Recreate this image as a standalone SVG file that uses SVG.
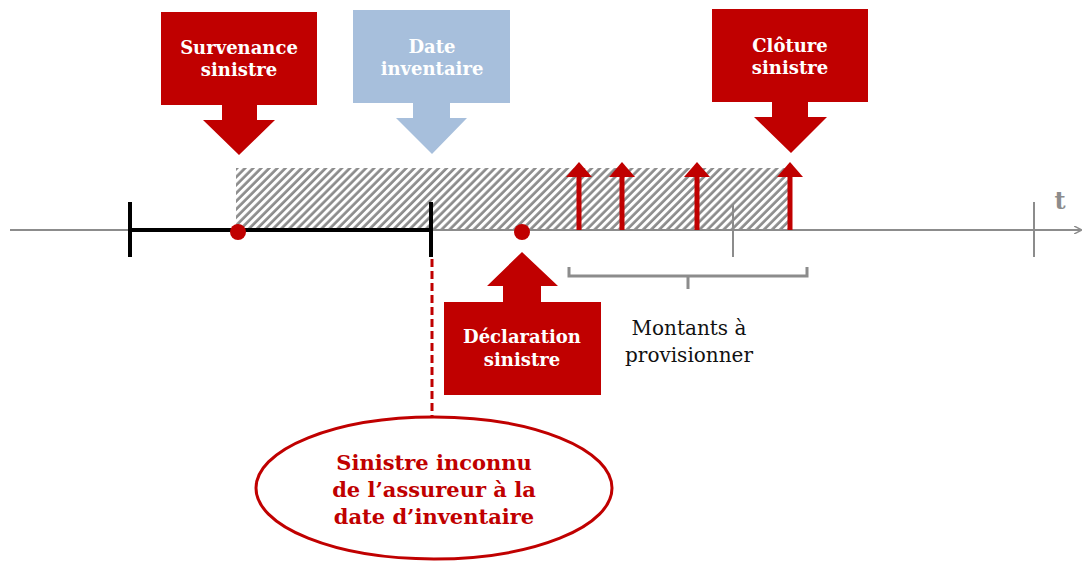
<svg xmlns="http://www.w3.org/2000/svg" width="1082" height="561" viewBox="0 0 1082 561">
<style>
.cw{font-family:"DejaVu Serif","Liberation Serif",serif;font-weight:bold;font-size:18px;fill:#FFFFFF;text-anchor:middle}
.cr{font-family:"DejaVu Serif","Liberation Serif",serif;font-weight:bold;font-size:21px;fill:#C00000;text-anchor:middle}
.cb{font-family:"DejaVu Serif","Liberation Serif",serif;font-size:20px;fill:#111111;text-anchor:middle}
.red{fill:#C00000}
.blue{fill:#A7BFDC}
.gl{stroke:#8C8C8C;stroke-width:2;fill:none}
.bl{stroke:#000000;stroke-width:4;fill:none}
.up{stroke:#C00000;stroke-width:5}
</style>
<defs>
<pattern id="hatch" patternUnits="userSpaceOnUse" width="5.7" height="5.7" patternTransform="rotate(45)">
<line x1="1.5" y1="0" x2="1.5" y2="5.7" stroke="#8C8C8C" stroke-width="2.7"/>
</pattern>
<marker id="ah" markerWidth="8" markerHeight="8" refX="7" refY="4" orient="auto" markerUnits="userSpaceOnUse">
<path d="M0,0 L8,4 L0,8" fill="none" stroke="#8C8C8C" stroke-width="1.5"/>
</marker>
</defs>
<g id="hatched-period">
<rect x="236" y="168" width="555" height="62" fill="url(#hatch)"/>
</g>
<g id="connectors">
<line x1="10" y1="230" x2="1081" y2="230" class="gl" marker-end="url(#ah)"/>
<line x1="130" y1="230" x2="431" y2="230" class="bl"/>
<line x1="130" y1="202" x2="130" y2="257" class="bl"/>
<line x1="431" y1="202" x2="431" y2="257" class="bl"/>
<line x1="733" y1="204" x2="733" y2="257" class="gl"/>
<line x1="1034" y1="202" x2="1034" y2="257" class="gl"/>
<line x1="432" y1="259" x2="432" y2="417" stroke="#C00000" stroke-width="3" stroke-dasharray="8,4"/>
<path d="M569,267 V276 H807 V267 M688,276 V289" stroke="#8C8C8C" stroke-width="3" fill="none"/>
<line x1="579" y1="230" x2="579" y2="176" class="up"/><path d="M566,177 L579,162 L592,177 Z" class="red"/>
<line x1="622" y1="230" x2="622" y2="176" class="up"/><path d="M609,177 L622,162 L635,177 Z" class="red"/>
<line x1="697" y1="230" x2="697" y2="176" class="up"/><path d="M684,177 L697,162 L710,177 Z" class="red"/>
<line x1="790" y1="230" x2="790" y2="176" class="up"/><path d="M777,177 L790,162 L803,177 Z" class="red"/>
<circle cx="238" cy="232" r="8" class="red"/>
<circle cx="522" cy="232" r="8" class="red"/>
<text x="1060" y="209" font-family="DejaVu Serif, serif" font-weight="bold" font-size="24" fill="#8C8C8C" text-anchor="middle">t</text>
</g>
<g id="survenance">
<path d="M161,12 H317 V105 H257 V120 H275 L239,155 L203,120 H222 V105 H161 Z" class="red"/>
<text x="239" y="54" class="cw">Survenance</text>
<text x="239" y="76" class="cw">sinistre</text>
</g>
<g id="date-inventaire">
<path d="M353,10 H510 V103 H450 V118 H467 L432,154 L396,118 H413 V103 H353 Z" class="blue"/>
<text x="432" y="53" class="cw">Date</text>
<text x="432" y="75" class="cw">inventaire</text>
</g>
<g id="cloture">
<path d="M712,9 H868 V102 H808 V117 H827 L791,153 L754,117 H772 V102 H712 Z" class="red"/>
<text x="790" y="52" class="cw">Clôture</text>
<text x="790" y="74" class="cw">sinistre</text>
</g>
<g id="declaration">
<path d="M522,252 L558,286 H541 V302 H601 V395 H444 V302 H503 V286 H487 Z" class="red"/>
<text x="522" y="343" class="cw">Déclaration</text>
<text x="522" y="366" class="cw">sinistre</text>
</g>
<g id="montants">
<text x="689" y="335" class="cb">Montants à</text>
<text x="689" y="362" class="cb">provisionner</text>
</g>
<g id="sinistre-inconnu">
<ellipse cx="434" cy="488" rx="178" ry="71" fill="#FFFFFF" stroke="#C00000" stroke-width="3"/>
<text x="434" y="470" class="cr">Sinistre inconnu</text>
<text x="434" y="497" class="cr">de l’assureur à la</text>
<text x="434" y="524" class="cr">date d’inventaire</text>
</g>
</svg>
